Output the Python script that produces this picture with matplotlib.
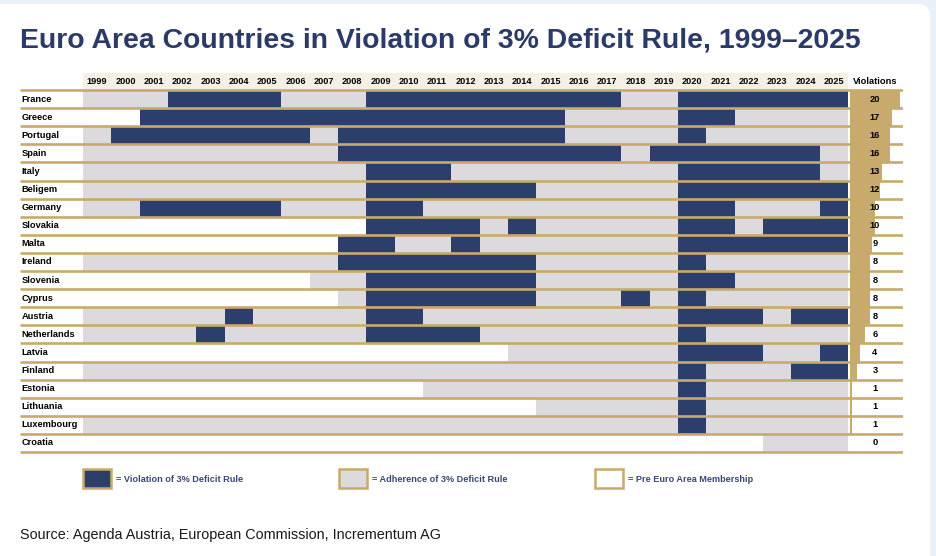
import matplotlib
matplotlib.use("Agg")
import matplotlib.pyplot as plt
from matplotlib.patches import Rectangle, FancyBboxPatch

plt.rcParams['font.family'] = ['Liberation Sans', 'DejaVu Sans']

# ---------------- data ----------------
years = list(range(1999, 2026))
countries = ["France", "Greece", "Portugal", "Spain", "Italy", "Beligem", "Germany",
             "Slovakia", "Malta", "Ireland", "Slovenia", "Cyprus", "Austria",
             "Netherlands", "Latvia", "Finland", "Estonia", "Lithuania",
             "Luxembourg", "Croatia"]
# N = violation, G = adherence, W = pre euro area membership (one char per year 1999-2025)
status = [
    "GGGNNNNGGGNNNNNNNNNGGNNNNNN",  # France
    "WWNNNNNNNNNNNNNNNGGGGNNGGGG",  # Greece
    "GNNNNNNNGNNNNNNNNGGGGNGGGGG",  # Portugal
    "GGGGGGGGGNNNNNNNNNNGNNNNNNG",  # Spain
    "GGGGGGGGGGNNNGGGGGGGGNNNNNG",  # Italy
    "GGGGGGGGGGNNNNNNGGGGGNNNNNN",  # Beligem
    "GGNNNNNGGGNNGGGGGGGGGNNGGGN",  # Germany
    "WWWWWWWWWWNNNNGNGGGGGNNGNNN",  # Slovakia
    "WWWWWWWWWNNGGNGGGGGGGNNNNNN",  # Malta
    "GGGGGGGGGNNNNNNNGGGGGNGGGGG",  # Ireland
    "WWWWWWWWGGNNNNNNGGGGGNNGGGG",  # Slovenia
    "WWWWWWWWWGNNNNNNGGGNGNGGGGG",  # Cyprus
    "GGGGGNGGGGNNGGGGGGGGGNNNGNN",  # Austria
    "GGGGNGGGGGNNNNGGGGGGGNGGGGG",  # Netherlands
    "WWWWWWWWWWWWWWWGGGGGGNNNGGN",  # Latvia
    "GGGGGGGGGGGGGGGGGGGGGNGGGNN",  # Finland
    "WWWWWWWWWWWWGGGGGGGGGNGGGGG",  # Estonia
    "WWWWWWWWWWWWWWWWGGGGGNGGGGG",  # Lithuania
    "GGGGGGGGGGGGGGGGGGGGGNGGGGG",  # Luxembourg
    "WWWWWWWWWWWWWWWWWWWWWWWWGGG",  # Croatia
]
violations = [20, 17, 16, 16, 13, 12, 10, 10, 9, 8, 8, 8, 8, 6, 4, 3, 1, 1, 1, 0]

title = "Euro Area Countries in Violation of 3% Deficit Rule, 1999\u20132025"
legend_labels = ["= Violation of 3% Deficit Rule", "= Adherence of 3% Deficit Rule",
                 "= Pre Euro Area Membership"]
source = "Source: Agenda Austria, European Commission, Incrementum AG"

# ---------------- style ----------------
NAVY = "#2c3e6b"
GREY = "#dcdadc"
GOLD = "#c8aa6c"
CREAM = "#f4f0e5"
BG = "#e8f0f8"
TITLE_C = "#2b3b68"
LEG_TXT = "#3b4776"
colors = {"N": NAVY, "G": GREY, "W": "white"}

W, H = 936, 556
fig = plt.figure(figsize=(W / 100, H / 100), dpi=100)
fig.patch.set_facecolor(BG)

# white card
card = FancyBboxPatch((-0.2, -0.2), 9.30 + 0.2, 5.52 + 0.2,
                      boxstyle="round,pad=0,rounding_size=0.12",
                      transform=fig.dpi_scale_trans, facecolor="white",
                      edgecolor="none", zorder=0)
fig.add_artist(card)

# grid axes in pixel layout: x 20..903, y 73..454
colw = 28.33
rowh = 18.1
x_left_px, x_right_px = 20, 903
y_top_px, y_bot_px = 73, 454
ax = fig.add_axes([x_left_px / W, 1 - y_bot_px / H,
                   (x_right_px - x_left_px) / W, (y_bot_px - y_top_px) / H])
ax.set_facecolor("none")
x0 = (x_left_px - 83) / colw
x1 = (x_right_px - 83) / colw
ax.set_xlim(x0, x1)
y_top = (y_top_px - 90) / rowh
y_bot = (y_bot_px - 90) / rowh
ax.set_ylim(y_bot, y_top)
ax.axis("off")

ny = len(years)
# header background
ax.add_patch(Rectangle((0, y_top), ny, -y_top, facecolor=CREAM, edgecolor="none", zorder=1))
for i, yr in enumerate(years):
    ax.text(i + 0.5, y_top / 2, str(yr), ha="center", va="center",
            fontsize=6.6, fontweight="bold", color="#000000", zorder=3)
vcol_center = ny + (877 - 850) / colw
ax.text(vcol_center, y_top / 2, "Violations", ha="center", va="center",
        fontsize=6.7, fontweight="bold", color="#000000", zorder=3)

# cells
for r, (name, st) in enumerate(zip(countries, status)):
    for i, c in enumerate(st):
        if c != "W":
            ax.add_patch(Rectangle((i, r), 1, 1, facecolor=colors[c],
                                   edgecolor="none", zorder=1))
    ax.text(x0 + 1.5 / colw, r + 0.5, name, ha="left", va="center",
            fontsize=6.7, fontweight="bold", color="#000000", zorder=3)

# violation bars
bar_start = ny + 2 / colw
unit = 2.5 / colw
ax.barh([r + 0.5 for r in range(len(countries))], [v * unit for v in violations],
        left=bar_start, height=1.0, color=GOLD, zorder=1)
for r, v in enumerate(violations):
    ax.text(vcol_center, r + 0.5, str(v), ha="center", va="center",
            fontsize=6.7, fontweight="bold", color="#000000", zorder=3)

# gold separators
for r in range(len(countries) + 1):
    ax.plot([x0, x1], [r, r], color=GOLD, lw=1.9, solid_capstyle="butt", zorder=2)

# title
fig.text(20 / W, 1 - 41 / H, title, ha="left", va="center", fontsize=20.4,
         fontweight="bold", color=TITLE_C)

# legend
leg_boxes = [(83, NAVY), (339, GREY), (595, "white")]
for (lx, fc), lab in zip(leg_boxes, legend_labels):
    fig.add_artist(Rectangle((lx / W, 1 - 488 / H), 28 / W, 19 / H,
                             transform=fig.transFigure, facecolor=fc,
                             edgecolor=GOLD, lw=1.8, zorder=3))
    fig.text((lx + 33) / W, 1 - 479 / H, lab, ha="left", va="center",
             fontsize=6.6, fontweight="bold", color=LEG_TXT)

# source
fig.text(20 / W, 1 - 535 / H, source, ha="left", va="center", fontsize=10.35,
         color="#1a1a1a")

fig.savefig("out.png", dpi=100, facecolor=BG)
